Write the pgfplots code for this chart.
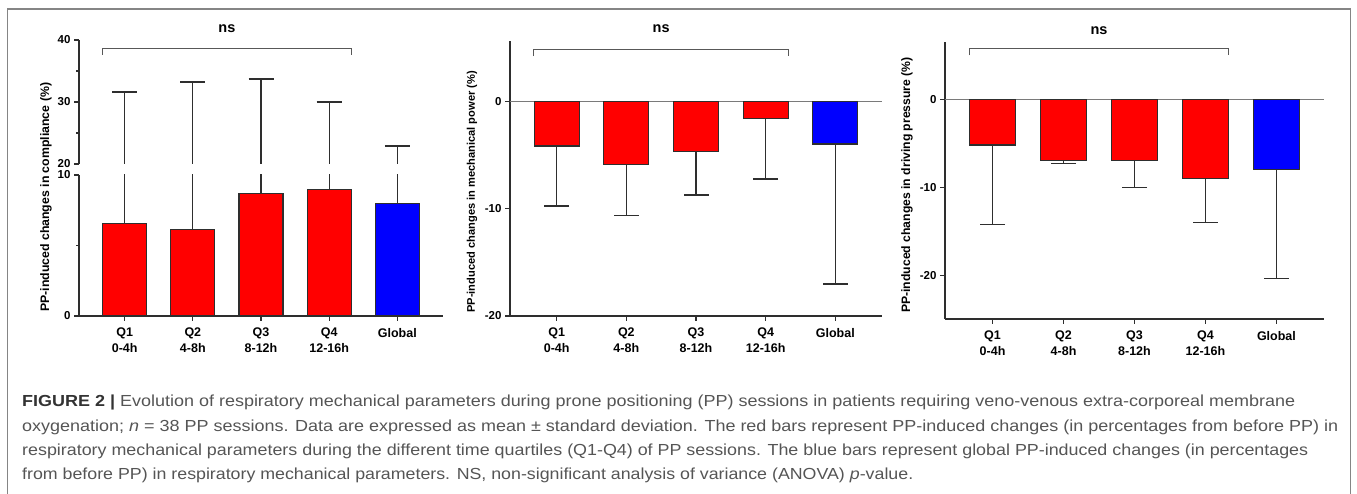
\documentclass[border=0pt]{standalone}
\usepackage{fontspec}
\setmainfont{Liberation Sans}
\usepackage{graphicx}
\usepackage{pgfplots}
\pgfplotsset{compat=1.18}
\usepackage{pgfplotstable}
\definecolor{axisgray}{HTML}{2E2E2E}
\definecolor{framegray}{HTML}{858585}
\definecolor{capgray}{HTML}{555555}
\definecolor{zerogray}{HTML}{7A7A7A}
\definecolor{barred}{HTML}{FF0000}
\definecolor{barblue}{HTML}{0000FF}

% compliance
\pgfplotstableread{
x y e
0 6.55 25.05
1 6.15 27.05
2 8.67 25.03
3 8.96 21.04
}\compQ
\pgfplotstableread{
x y e
4 7.96 14.94
}\compG
% mechanical power
\pgfplotstableread{
x y e
0 -4.13 5.59
1 -5.84 4.76
2 -4.66 4.04
3 -1.55 5.65
}\mechQ
\pgfplotstableread{
x y e
4 -3.94 13.06
}\mechG
% driving pressure
\pgfplotstableread{
x y e
0 -5.17 9.03
1 -6.95 0.35
2 -6.95 3.05
3 -8.96 5.01
}\drivQ
\pgfplotstableread{
x y e
4 -7.97 12.43
}\drivG

\pgfplotsset{
  panel/.style={
    scale only axis,
    xmin=-0.67, xmax=4.67,
    clip mode=individual,
    axis line style={axisgray, line width=1.2pt},
    every tick/.style={axisgray, line width=1.2pt},
    tick align=outside,
    major tick length=5pt,
    minor tick length=3pt,
    xtick={0,...,4},
    xticklabels={{Q1\\0-4h},{Q2\\4-8h},{Q3\\8-12h},{Q4\\12-16h},{Global}},
    xticklabel style={align=center, font=\bfseries\fontsize{12.5}{15.5}\selectfont, text=black, yshift=-3.5pt},
    yticklabel style={font=\bfseries\fontsize{11.5}{13}\selectfont, text=black},
    /pgf/number format/assume math mode=true,
  },
  bars/.style={
    ybar, bar width=0.645, bar shift=0pt,
    draw=axisgray, line width=1.2pt,
    error bars/y dir=#1, error bars/y explicit,
    error bars/error bar style={line width=1.3pt, axisgray},
    error bars/error mark options={rotate=90, mark size=12.5pt, line width=1.3pt, axisgray},
  },
}

\begin{document}
\begin{tikzpicture}
\path[use as bounding box] (0pt,0pt) rectangle (1357pt,494pt);
% frame
\draw[framegray, line width=1.5pt] (7.5pt,-5pt) -- (7.5pt,485pt) -- (1350.5pt,485pt) -- (1350.5pt,-5pt);

% ---------- Panel 1 (broken axis) ----------
\begin{axis}[panel, at={(79pt,178pt)}, anchor=south west,
  width=364pt, height=141pt,
  ymin=0, ymax=10, ytick={0,10}, minor ytick={5},
  axis x line*=bottom, axis y line*=left]
  \addplot[bars=plus, fill=barred] table[x=x, y=y, y error=e] {\compQ};
  \addplot[bars=plus, fill=barblue] table[x=x, y=y, y error=e] {\compG};
\end{axis}
\begin{axis}[panel, at={(79pt,330pt)}, anchor=south west,
  width=364pt, height=124pt,
  ymin=20, ymax=40, ytick={20,30,40}, minor ytick={25,35},
  xtick=\empty, axis x line=none, axis y line*=left]
  \addplot[bars=plus, fill=none, draw=none] table[x=x, y=y, y error=e] {\compQ};
  \addplot[bars=plus, fill=none, draw=none] table[x=x, y=y, y error=e] {\compG};
  \draw[axisgray!80, line width=1pt] (axis cs:-0.33,37.6) -- (axis cs:-0.33,38.66) -- (axis cs:3.33,38.66) -- (axis cs:3.33,37.6);
  \node[font=\bfseries\fontsize{14.5}{16}\selectfont, inner sep=0pt] at (axis cs:1.5,41.9) {ns};
\end{axis}
\node[rotate=90, anchor=west, inner sep=0pt, font=\bfseries\fontsize{12.3}{14}\selectfont] at (46pt,182pt) {PP-induced changes in compliance (\%)};

% ---------- Panel 2 ----------
\begin{axis}[panel, at={(510pt,178pt)}, anchor=south west,
  width=372pt, height=275.3pt,
  ymin=-20, ymax=5.7, ytick={-20,-10,0}, yticklabels={-20,-10,0},
  axis lines*=left]
  \draw[zerogray, line width=1.2pt] (axis cs:-0.67,0) -- (axis cs:4.67,0);
  \addplot[bars=minus, fill=barred] table[x=x, y=y, y error=e] {\mechQ};
  \addplot[bars=minus, fill=barblue] table[x=x, y=y, y error=e] {\mechG};
  \draw[axisgray!80, line width=1pt] (axis cs:-0.33,4.26) -- (axis cs:-0.33,4.88) -- (axis cs:3.33,4.88) -- (axis cs:3.33,4.26);
  \node[font=\bfseries\fontsize{14.5}{16}\selectfont, inner sep=0pt] at (axis cs:1.5,6.78) {ns};
\end{axis}
\node[rotate=90, anchor=west, inner sep=0pt, font=\bfseries\fontsize{11.1}{13}\selectfont] at (472pt,181pt) {PP-induced changes in mechanical power (\%)};

% ---------- Panel 3 ----------
\begin{axis}[panel, at={(945pt,175pt)}, anchor=south west,
  width=379pt, height=277.3pt,
  ymin=-25, ymax=6.6, ytick={-20,-10,0}, yticklabels={-20,-10,0},
  axis lines*=left]
  \draw[zerogray, line width=1.2pt] (axis cs:-0.67,0) -- (axis cs:4.67,0);
  \addplot[bars=minus, fill=barred] table[x=x, y=y, y error=e] {\drivQ};
  \addplot[bars=minus, fill=barblue] table[x=x, y=y, y error=e] {\drivG};
  \draw[axisgray!80, line width=1pt] (axis cs:-0.33,5.04) -- (axis cs:-0.33,5.84) -- (axis cs:3.33,5.84) -- (axis cs:3.33,5.04);
  \node[font=\bfseries\fontsize{14.5}{16}\selectfont, inner sep=0pt] at (axis cs:1.5,7.89) {ns};
\end{axis}
\node[rotate=90, anchor=west, inner sep=0pt, font=\bfseries\fontsize{12.2}{14}\selectfont] at (907pt,181pt) {PP-induced changes in driving pressure (\%)};

% ---------- Caption ----------
\begin{scope}[every node/.style={anchor=base west, inner sep=0pt, text=capgray, font=\fontsize{16}{19}\selectfont}]
\node at (22pt,87.3pt) {\resizebox{1273pt}{\height}{{\bfseries\color{black!80}FIGURE 2 |} Evolution of respiratory mechanical parameters during prone positioning (PP) sessions in patients requiring veno-venous extra-corporeal membrane}};
\node at (22pt,62.3pt) {\resizebox{1316pt}{\height}{oxygenation; \textit{n} = 38 PP sessions. Data are expressed as mean ± standard deviation. The red bars represent PP-induced changes (in percentages from before PP) in}};
\node at (22pt,38pt) {\resizebox{1286pt}{\height}{respiratory mechanical parameters during the different time quartiles (Q1-Q4) of PP sessions. The blue bars represent global PP-induced changes (in percentages}};
\node at (22pt,14pt) {\resizebox{891pt}{\height}{from before PP) in respiratory mechanical parameters. NS, non-significant analysis of variance (ANOVA) \textit{p}-value.}};
\end{scope}
\end{tikzpicture}
\end{document}
